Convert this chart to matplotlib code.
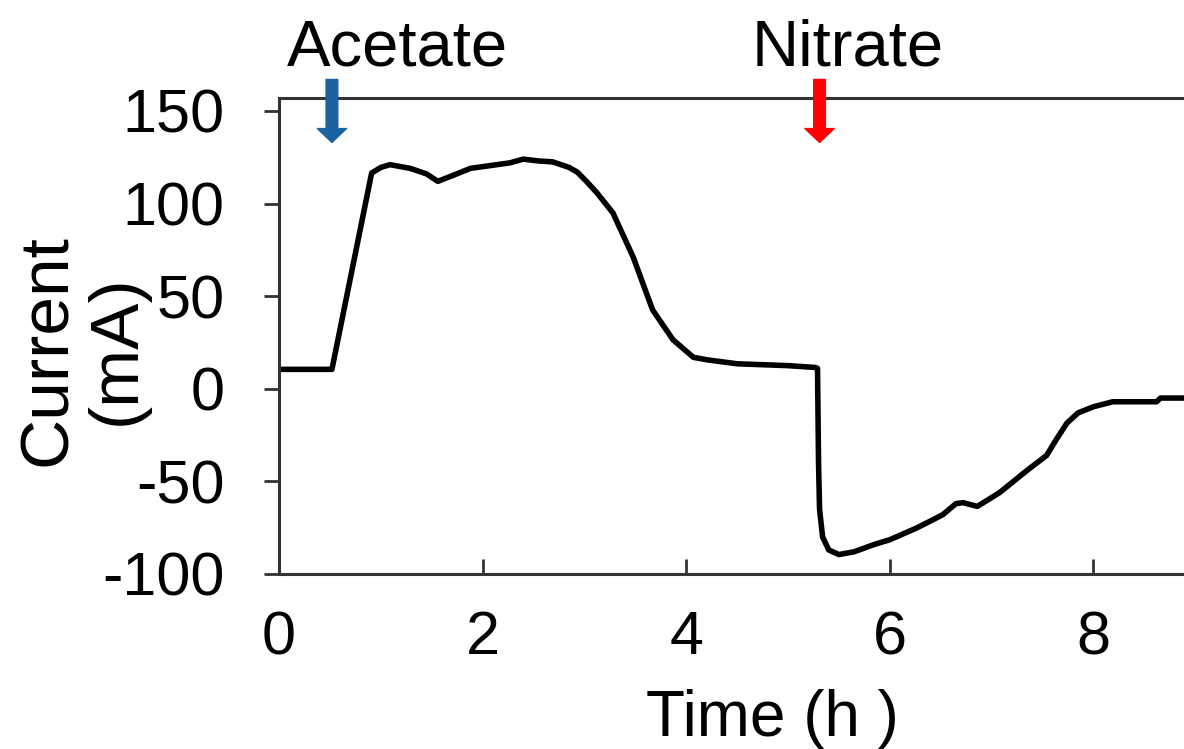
import matplotlib
matplotlib.use('Agg')
import matplotlib.pyplot as plt

plt.rcParams['font.family'] = ['Liberation Sans', 'DejaVu Sans']
plt.rcParams['axes.unicode_minus'] = False

# current trace (time in h, current in mA)
time_h = [0.0, 0.3, 0.52, 0.91, 1.0, 1.09, 1.29, 1.45, 1.56, 1.7, 1.88, 2.14, 2.27, 2.40,
          2.55, 2.69, 2.85, 2.93, 3.02, 3.12, 3.28, 3.48, 3.67, 3.87, 4.07, 4.21, 4.5,
          5.0, 5.27, 5.29, 5.30, 5.31, 5.34, 5.4, 5.5, 5.65, 5.85, 6.0, 6.27, 6.52,
          6.65, 6.72, 6.86, 7.08, 7.35, 7.54, 7.64, 7.74, 7.85, 8.0, 8.19, 8.62,
          8.66, 8.9]
current_ma = [10.5, 10.5, 10.5, 116.5, 119.5, 121, 119, 116, 112, 115, 119, 121, 122, 124,
              123, 122.5, 119.5, 117, 112, 106, 95, 71, 42.6, 26.5, 17, 15.6, 13.5,
              12.5, 11.5, 11, -40, -65, -80, -87, -89.5, -88, -84, -81.5, -75, -68,
              -62, -61.5, -63.5, -56, -44, -36, -27, -18.5, -13, -9.7, -7, -7,
              -5, -5]

xticks = [0, 2, 4, 6, 8]
yticks = [-100, -50, 0, 50, 100, 150]

events = ['Acetate', 'Nitrate']
event_times = [0.52, 5.31]
event_colors = ['#1b62a0', '#ff0000']
label_x = [397, 848]  # text centres in pixels

fig = plt.figure(figsize=(11.84, 7.49), dpi=100)
ax = fig.add_axes([279 / 1184, 1 - 574 / 749, 1 - 279 / 1184, (574 - 98) / 749])

ax.plot(time_h, current_ma, color='black', lw=4, solid_joinstyle='round')

ax.set_xlim(0, 8.89)
ax.set_ylim(-100, 157)
ax.set_xticks(xticks)
ax.set_yticks(yticks)

for side in ['left', 'bottom', 'top']:
    ax.spines[side].set_linewidth(2.2)
    ax.spines[side].set_color('#333333')
ax.spines['right'].set_visible(False)

ax.tick_params(axis='x', direction='in', length=11, width=2, color='#333333',
               labelsize=44, pad=26)
ax.tick_params(axis='y', direction='out', length=11, width=2, color='#333333',
               labelsize=44, pad=28)

# arrows and labels for the additions
for name, t, c, px in zip(events, event_times, event_colors, label_x):
    ax.annotate('', xy=(t, 133), xytext=(t, 167), annotation_clip=False,
                arrowprops=dict(arrowstyle='simple,head_length=0.5,head_width=1.05,tail_width=0.42',
                                color=c, shrinkA=0, shrinkB=0, mutation_scale=20))
    fig.text(px / 1184, 1 - 66 / 749, name, ha='center', va='baseline', fontsize=47)

fig.text(82 / 1184, 1 - 350 / 749, 'Current\n(mA)', rotation=90, ha='center', va='center',
         multialignment='center', fontsize=50, linespacing=1.1)
fig.text(772 / 1184, 1 - 736 / 749, 'Time (h )', ha='center', va='baseline', fontsize=46)

fig.savefig('out.png', dpi=100)
